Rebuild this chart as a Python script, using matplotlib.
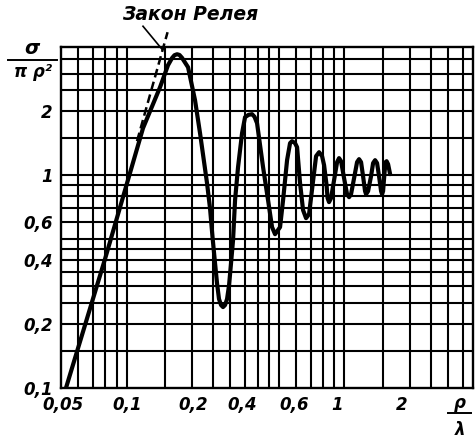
import matplotlib
matplotlib.use("Agg")
import matplotlib.pyplot as plt
from matplotlib.lines import Line2D
from matplotlib.transforms import offset_copy

# curve: rho/lambda -> sigma/(pi rho^2)
rho_lam = [0.0527, 0.0796, 0.119, 0.1425, 0.155, 0.1618, 0.166, 0.1706, 0.175,
           0.1797, 0.1916, 0.2063, 0.2175, 0.2342, 0.2417, 0.2482, 0.2549, 0.2603,
           0.2658, 0.2716, 0.2774, 0.2834, 0.2895, 0.2957, 0.3019, 0.3084, 0.3150,
           0.3251, 0.3392, 0.3501, 0.3632, 0.3771, 0.387, 0.3975, 0.4236, 0.4465,
           0.4658, 0.4808, 0.507, 0.5234, 0.546, 0.5635, 0.5755, 0.594, 0.607,
           0.6264, 0.6466, 0.6674, 0.689, 0.715, 0.742, 0.766, 0.7906, 0.8076,
           0.829, 0.838, 0.851, 0.8694, 0.8974, 0.9266, 0.946, 0.9663, 0.9976,
           1.0297, 1.052, 1.074, 1.109, 1.1445, 1.169, 1.194, 1.2195, 1.2455,
           1.259, 1.286, 1.327, 1.356, 1.385, 1.414, 1.444, 1.4755, 1.491, 1.507,
           1.531, 1.5475, 1.564, 1.589, 1.623]
sigma_rel = [0.1, 0.403, 1.662, 2.589, 3.284, 3.55, 3.66, 3.699, 3.67,
             3.56, 3.214, 2.250, 1.575, 0.917, 0.700, 0.512, 0.386, 0.311,
             0.262, 0.2453, 0.240, 0.2453, 0.262, 0.3044, 0.386, 0.495, 0.763,
             1.090, 1.575, 1.872, 1.92, 1.934, 1.88, 1.754, 1.090, 0.763,
             0.570, 0.528, 0.570, 0.763, 1.176, 1.414, 1.444, 1.414, 1.353,
             0.917, 0.685, 0.628, 0.656, 0.898, 1.228, 1.282, 1.228, 1.114,
             0.898, 0.780, 0.747, 0.780, 0.947, 1.151, 1.202, 1.163, 0.968,
             0.814, 0.788, 0.814, 0.968, 1.151, 1.189, 1.151, 0.989, 0.841,
             0.814, 0.841, 0.989, 1.139, 1.176, 1.139, 0.989, 0.841, 0.814, 0.841,
             1.033, 1.151, 1.163, 1.126, 1.011]

# dashed Rayleigh-law piece
rayleigh_x = [0.1117, 0.1543]
rayleigh_y = [1.444, 4.694]
note_x = [0.119, 0.1455]
note_y = [5.007, 3.905]

grid_x = [0.06, 0.07, 0.08, 0.09, 0.1, 0.15, 0.2, 0.25, 0.3, 0.35, 0.4, 0.45,
          0.5, 0.6, 0.7, 0.8, 0.9, 1, 1.5, 2, 2.5, 3, 3.5]
grid_y = [0.15, 0.2, 0.25, 0.3, 0.35, 0.4, 0.45, 0.5, 0.6, 0.7, 0.8, 0.9,
          1, 1.5, 2, 2.5, 3, 3.5]

xtick_vals = [0.05, 0.1, 0.2, 0.4, 0.6, 1, 2]
xtick_text = ['0,05', '0,1', '0,2', '0,4', '0,6', '1', '2']
xtick_shift = [1.5, 0.7, 0.7, -10.8, -1.4, -5, -5.8]   # pt, as placed in the scan
ytick_vals = [0.1, 0.2, 0.4, 0.6, 1, 2]
ytick_text = ['0,1', '0,2', '0,4', '0,6', '1', '2']

W, H = 477, 440
fig = plt.figure(figsize=(W / 100, H / 100), dpi=100)
ax = fig.add_axes([61 / W, 1 - 388 / H, 412 / W, 341 / H])
ax.set_xscale('log')
ax.set_yscale('log')
ax.set_xlim(0.05, 3.9)
ax.set_ylim(0.1, 4.0)

for g in grid_x:
    ax.axvline(g, color='black', lw=1.5, zorder=1)
for g in grid_y:
    ax.axhline(g, color='black', lw=1.5, zorder=1)
for s in ax.spines.values():
    s.set_linewidth(1.7)

ax.plot(rho_lam, sigma_rel, color='black', lw=3.0, solid_joinstyle='round',
        solid_capstyle='round', zorder=3)
ax.plot(rayleigh_x, rayleigh_y, color='black', lw=1.8, linestyle=(0, (3.5, 1.8)),
        clip_on=False, zorder=3)
ax.plot(note_x, note_y, color='black', lw=1.2, clip_on=False, zorder=3)

font = dict(fontsize=12, fontstyle='italic', fontweight='bold', color='black')
ax.text(0.0953, 5.7, 'Закон Релея', ha='left', va='center',
        fontsize=13.5, fontstyle='italic', fontweight='bold', color='black')

ax.xaxis.set_major_locator(plt.NullLocator())
ax.xaxis.set_minor_locator(plt.NullLocator())
ax.set_yticks(ytick_vals)
ax.set_yticklabels(ytick_text, **font)
ax.yaxis.set_minor_locator(plt.NullLocator())
ax.tick_params(axis='y', length=0, pad=6)

for v, t, dx in zip(xtick_vals, xtick_text, xtick_shift):
    tr = offset_copy(ax.get_xaxis_transform(), fig=fig, x=dx, y=-12.5, units='points')
    ax.text(v, 0, t, transform=tr, ha='center', va='center', **font)

# axis titles as stacked fractions
fig.text(32 / W, 1 - 49 / H, 'σ', ha='center', va='center',
         fontsize=14, fontstyle='italic', fontweight='bold')
fig.add_artist(Line2D([8 / W, 57 / W], [1 - 60 / H, 1 - 60 / H], color='black', lw=1.4))
fig.text(33 / W, 1 - 72 / H, 'π ρ²', ha='center', va='center', **font)

fig.text(460 / W, 1 - 403 / H, 'ρ', ha='center', va='center', **font)
fig.add_artist(Line2D([448 / W, 471 / W], [1 - 413 / H, 1 - 413 / H], color='black', lw=1.4))
fig.text(460 / W, 1 - 430 / H, 'λ', ha='center', va='center', **font)

fig.savefig('out.png', dpi=100)
